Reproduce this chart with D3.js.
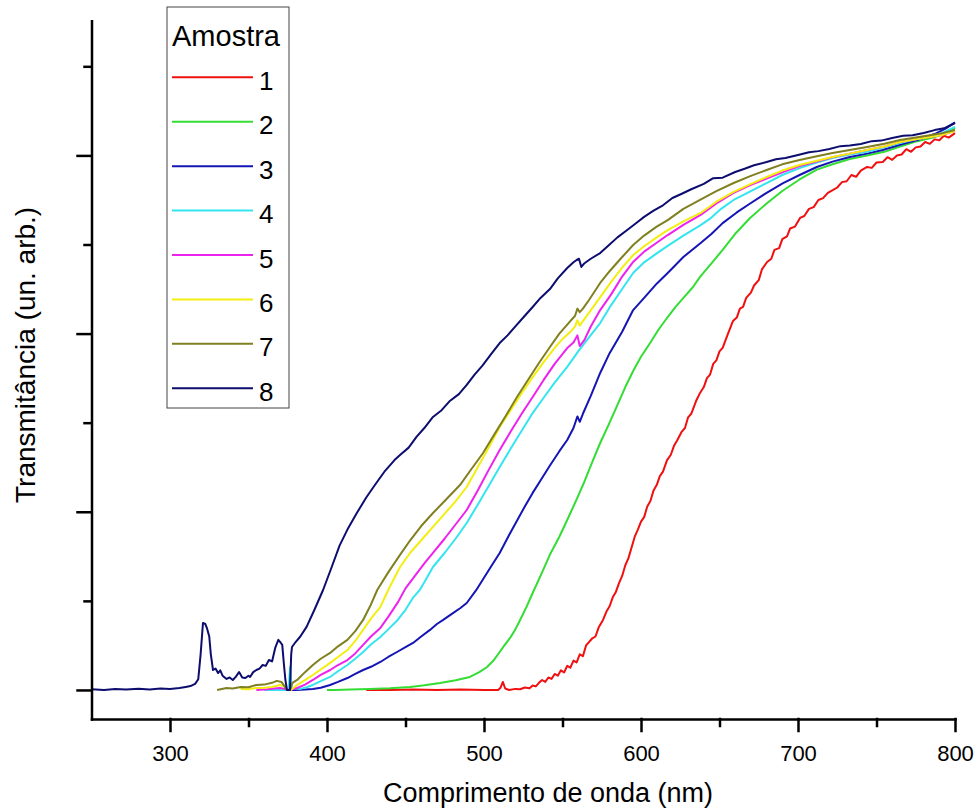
<!DOCTYPE html>
<html>
<head>
<meta charset="utf-8">
<script src="https://cdn.jsdelivr.net/npm/d3@7"></script>
<style>
  body { margin: 0; background: #fff; }
  svg text { font-family: Arial, "Liberation Sans", sans-serif; fill: #000; }
</style>
</head>
<body>
<div id="chart"></div>
<script>
// Sample labels and colours (legend order)
const sampleNames = ["1", "2", "3", "4", "5", "6", "7", "8"];
const sampleColors = ["#f01010", "#33dd33", "#1515b5", "#33e5ee", "#ee22ee", "#f4ee10", "#808020", "#0d0d70"];

// Spectra: [wavelength (nm), transmittance (arb. units)]
const amostra1 = [[425,0],[440,0],[455,0.003],[470,0],[485,0.003],[500,0],[509,0],[510.5,0.012],[512,0.045],[513.5,0.008],[516,0],[520,0.006],[523,0.004],[526,0.014],[529,0.01],[531,0.025],[533,0.02],[535,0.04],[537,0.056],[539,0.045],[541,0.07],[543,0.062],[545,0.09],[547,0.08],[549,0.11],[551,0.098],[553,0.135],[555,0.125],[557,0.165],[559,0.155],[561,0.2],[563,0.19],[565,0.25],[567,0.27],[569,0.29],[571,0.3],[573,0.35],[575.8,0.393],[578,0.44],[580,0.47],[582,0.52],[584,0.55],[586,0.6],[588,0.64],[590,0.7],[592,0.74],[594,0.8],[596,0.86],[598,0.9],[600,0.945],[602,0.97],[604,1.03],[606,1.06],[608,1.12],[610,1.15],[612,1.2],[614,1.225],[616.6,1.29],[619,1.32],[621,1.37],[623,1.4],[626,1.45],[628,1.47],[630,1.53],[632,1.55],[635,1.62],[637.6,1.667],[640,1.7],[642,1.75],[644,1.77],[646,1.83],[648,1.85],[650,1.9],[652,1.92],[655,1.99],[658.6,2.071],[661,2.09],[663,2.14],[665,2.15],[667,2.2],[670,2.23],[672,2.27],[675,2.3],[677,2.36],[680.3,2.402],[683,2.42],[685,2.47],[688,2.48],[690,2.53],[693,2.545],[695,2.59],[698,2.6],[701.3,2.649],[704,2.66],[707,2.7],[710,2.71],[713,2.75],[716,2.76],[719,2.79],[722.4,2.806],[725,2.82],[728,2.85],[731,2.855],[734,2.89],[737,2.88],[740,2.915],[744,2.935],[747,2.93],[750,2.96],[754,2.963],[757,2.99],[760,2.975],[763,3.0],[766,3.005],[769,3.035],[772,3.02],[775,3.045],[778,3.05],[781,3.075],[784,3.065],[787,3.09],[790,3.085],[793,3.11],[796,3.1],[800,3.125]];

const amostra2 = [[400,0],[405,0],[415,0.003],[427,0.006],[440,0.01],[453,0.017],[462,0.026],[472,0.039],[482,0.055],[491,0.073],[497,0.1],[502,0.129],[506,0.165],[510,0.213],[513,0.25],[516.6,0.292],[520,0.34],[523,0.393],[527,0.465],[531,0.544],[537,0.66],[542,0.76],[548,0.86],[553,0.954],[559,1.07],[564,1.17],[569,1.28],[574,1.386],[580,1.5],[586,1.62],[590,1.7],[595,1.79],[600,1.87],[606,1.95],[611,2.02],[617,2.093],[622,2.15],[628,2.21],[633,2.26],[637.6,2.318],[645,2.395],[652,2.47],[660,2.56],[669.5,2.649],[680,2.73],[690,2.8],[701,2.865],[712,2.92],[722,2.95],[733,2.98],[744,3.0],[755,3.02],[765,3.05],[776,3.08],[786,3.1],[793,3.12],[800,3.155]];

const amostra3 = [[370,0],[380,0],[386,0.002],[391,0.006],[396,0.012],[402,0.028],[407,0.045],[413,0.067],[418,0.09],[423,0.112],[428,0.13],[434,0.157],[439,0.185],[444.6,0.213],[450,0.24],[454.8,0.264],[460,0.3],[465.6,0.337],[470,0.37],[474,0.393],[480,0.43],[485,0.46],[489,0.488],[495,0.56],[500,0.63],[505,0.7],[510,0.769],[516,0.87],[521,0.95],[526,1.03],[531,1.106],[537,1.19],[542,1.26],[548,1.34],[553,1.403],[557,1.47],[559.5,1.535],[561,1.505],[563,1.55],[568,1.65],[574,1.779],[580,1.89],[588,2.01],[595,2.132],[602,2.2],[610,2.28],[617,2.34],[627,2.43],[638,2.508],[645,2.56],[652,2.62],[661,2.68],[670,2.733],[680,2.79],[690.5,2.845],[701,2.89],[712,2.935],[722,2.965],[733,2.991],[744,3.01],[754,3.03],[765,3.06],[776,3.086],[787,3.12],[794,3.15],[800,3.185]];

const amostra4 = [[360,0],[370,0],[375.5,0],[376.5,0.13],[377.5,0.01],[383,0.006],[387,0.015],[391,0.028],[396,0.05],[402,0.073],[407,0.105],[413,0.14],[418,0.175],[423,0.213],[428,0.255],[434,0.297],[439,0.34],[445,0.393],[450,0.45],[455,0.52],[459,0.56],[463,0.62],[467.5,0.69],[475,0.77],[482,0.85],[489,0.937],[496,1.04],[503,1.145],[510,1.251],[517,1.355],[524,1.455],[531,1.554],[538,1.64],[545,1.725],[553,1.813],[560,1.9],[567,1.98],[574,2.059],[581,2.16],[588,2.25],[595,2.34],[602,2.4],[610,2.45],[617,2.492],[627,2.55],[638,2.609],[644,2.645],[651,2.7],[659,2.75],[670,2.8],[680,2.845],[690,2.89],[701,2.929],[712,2.96],[722,2.985],[733,3.005],[744,3.02],[755,3.045],[765,3.07],[775,3.09],[786,3.11],[793,3.13],[800,3.16]];

const amostra5 = [[355,0],[362,0.004],[366,0.008],[370,0.011],[373,0.006],[376,0],[381,0.011],[386,0.03],[391,0.056],[396,0.085],[402,0.112],[407,0.14],[413,0.168],[418,0.205],[423,0.253],[428,0.3],[434,0.348],[439,0.41],[445,0.49],[450,0.57],[456,0.64],[462,0.71],[467.5,0.769],[475,0.85],[482,0.93],[489,1.01],[496,1.12],[503,1.235],[510,1.347],[517,1.45],[524,1.55],[531,1.644],[538,1.74],[545,1.83],[553,1.919],[557,1.95],[559.5,1.99],[561,1.93],[564,1.965],[568,2.04],[574,2.132],[581,2.22],[588,2.32],[595,2.402],[602,2.46],[610,2.51],[617,2.553],[627,2.61],[638,2.666],[648,2.73],[659,2.79],[670,2.835],[680,2.87],[690,2.905],[701,2.94],[712,2.965],[722,2.99],[733,3.01],[744,3.03],[755,3.05],[765,3.075],[775,3.09],[785,3.105],[792,3.115],[800,3.137]];

const amostra6 = [[345,0.006],[350,0.004],[355,0.011],[360,0.012],[365,0.017],[370,0.028],[373,0.02],[375,0],[377,0],[381,0.028],[386,0.055],[391,0.084],[396,0.115],[402,0.152],[407,0.185],[413,0.224],[418,0.275],[423,0.337],[428,0.4],[434,0.466],[439,0.561],[446.5,0.69],[453,0.77],[460,0.84],[467.5,0.915],[475,0.99],[482,1.06],[489,1.139],[496,1.25],[503,1.36],[510,1.476],[517,1.57],[524,1.665],[531,1.756],[538,1.84],[545,1.92],[550,1.97],[555,2.01],[558,2.04],[559.5,2.075],[561,2.045],[563,2.07],[568,2.13],[574,2.205],[581,2.29],[588,2.37],[595,2.441],[602,2.49],[610,2.54],[617,2.581],[627,2.63],[638,2.677],[648,2.74],[659,2.795],[670,2.84],[680,2.879],[690,2.915],[701,2.946],[712,2.97],[722,2.991],[733,3.01],[744,3.03],[755,3.05],[765,3.075],[775,3.09],[785,3.105],[792,3.115],[800,3.137]];

const amostra7 = [[330,0],[336,0.011],[340,0.008],[345,0.017],[350,0.015],[355,0.028],[360,0.03],[365,0.04],[368,0.051],[371,0.045],[373,0.02],[374.5,0],[376.5,0],[378,0.04],[381,0.056],[386,0.1],[391,0.14],[396,0.175],[402,0.208],[407,0.245],[413,0.281],[418,0.33],[423,0.393],[428,0.48],[432,0.561],[439,0.66],[446.5,0.758],[453,0.84],[460,0.92],[467.5,0.993],[476,1.07],[484.7,1.15],[492,1.24],[499.4,1.33],[507,1.44],[514,1.54],[521,1.644],[528,1.74],[535,1.835],[542,1.925],[548,2.0],[554,2.06],[558,2.1],[559.5,2.14],[561,2.12],[563,2.14],[567,2.19],[574,2.284],[580,2.35],[587,2.42],[595,2.497],[602,2.55],[610,2.6],[617,2.637],[627,2.7],[637.6,2.75],[648,2.8],[659,2.845],[670,2.885],[680,2.918],[690,2.95],[701,2.974],[712,2.995],[722,3.013],[733,3.03],[744,3.047],[755,3.065],[765,3.086],[775,3.1],[785,3.115],[792,3.125],[800,3.143]];

const amostra8 = [[250,0.004],[258,0],[265,0.006],[272,0.002],[280,0.007],[287,0.003],[294,0.008],[300,0.006],[306,0.011],[310,0.017],[313,0.022],[316,0.034],[318,0.06],[319.5,0.2],[321,0.376],[322.5,0.37],[323.6,0.345],[325,0.3],[326,0.2],[327.4,0.112],[329,0.12],[330.6,0.095],[332,0.11],[333.5,0.08],[336,0.062],[338,0.07],[340,0.056],[342,0.075],[344,0.101],[346,0.07],[348,0.067],[350,0.08],[351,0.073],[353,0.1],[355,0.112],[357,0.12],[359,0.14],[361,0.135],[363,0.168],[365,0.16],[367,0.236],[369,0.281],[370.5,0.265],[371.5,0.253],[372.5,0.15],[373.5,0.056],[374.5,0],[376.4,0],[377.2,0.2],[377.7,0.241],[380,0.269],[383,0.3],[387,0.354],[392,0.45],[397.5,0.561],[403,0.69],[408,0.81],[413,0.9],[419,0.993],[425,1.08],[430.5,1.15],[437,1.23],[443,1.29],[446.5,1.319],[452,1.36],[457,1.42],[462,1.47],[467.5,1.532],[473,1.57],[478,1.62],[484,1.66],[489,1.712],[494,1.77],[499,1.82],[505,1.89],[510,1.947],[515,1.99],[520,2.04],[526,2.1],[531,2.149],[536,2.2],[542,2.25],[547,2.31],[553,2.368],[557,2.4],[559,2.413],[560.5,2.42],[562,2.374],[564,2.395],[568,2.42],[574,2.452],[580,2.5],[585,2.54],[591,2.58],[597,2.621],[602,2.655],[608,2.69],[614,2.72],[620,2.761],[626,2.785],[632,2.81],[640,2.84],[646,2.872],[652,2.875],[660,2.907],[666,2.925],[672,2.945],[680,2.963],[686,2.978],[692,2.985],[700,3.002],[707,3.018],[713,3.024],[720,3.036],[727,3.052],[733,3.055],[740,3.064],[747,3.08],[753,3.083],[760,3.098],[767,3.11],[773,3.113],[780,3.126],[787,3.142],[793,3.152],[800,3.182]];

const spectra = [amostra1, amostra2, amostra3, amostra4, amostra5, amostra6, amostra7, amostra8];

// Axis ticks
const xTicks = [300, 400, 500, 600, 700, 800];
const xMinorTicks = [350, 450, 550, 650, 750];
const yTicks = [0, 1, 2, 3];
const yMinorTicks = [0.5, 1.5, 2.5, 3.5];

function drawChart() {
    const width = 978, height = 812;

    const svg = d3.select("#chart").append("svg")
        .attr("width", width)
        .attr("height", height);

    const x = d3.scaleLinear().domain([250, 800]).range([91.5, 955]);
    const y = d3.scaleLinear().domain([-0.163, 3.756]).range([719, 20.7]);

    const line = d3.line()
        .x(d => x(d[0]))
        .y(d => y(d[1]));

    // Spectra, sample 1 first so sample 8 ends on top
    svg.append("g")
        .selectAll("path")
        .data(spectra)
        .enter().append("path")
        .attr("d", line)
        .attr("fill", "none")
        .attr("stroke", (d, i) => sampleColors[i])
        .attr("stroke-width", 2)
        .attr("stroke-linejoin", "round");

    // x axis
    const xAxis = svg.append("g")
        .attr("transform", `translate(0,${y.range()[0]})`)
        .call(d3.axisBottom(x).tickValues(xTicks).tickSize(12).tickSizeOuter(0).tickPadding(14));
    xAxis.append("g")
        .call(d3.axisBottom(x).tickValues(xMinorTicks).tickSize(7).tickFormat(""))
        .select(".domain").remove();

    // y axis, no labels (arbitrary units)
    const yAxis = svg.append("g")
        .attr("transform", `translate(${x.range()[0]},0)`)
        .call(d3.axisLeft(y).tickValues(yTicks).tickSize(14).tickSizeOuter(0).tickFormat(""));
    yAxis.append("g")
        .call(d3.axisLeft(y).tickValues(yMinorTicks).tickSize(7).tickFormat(""))
        .select(".domain").remove();

    svg.selectAll(".domain, .tick line")
        .attr("stroke", "#000")
        .attr("stroke-width", 2.5)
        .attr("stroke-linecap", "square");

    xAxis.selectAll(".tick text")
        .attr("font-size", 22)
        .attr("font-family", "Arial, 'Liberation Sans', sans-serif")
        .attr("fill", "#000");

    // axis titles
    svg.append("text")
        .attr("x", 548)
        .attr("y", 802)
        .attr("text-anchor", "middle")
        .style("font-size", "27px")
        .text("Comprimento de onda (nm)");

    svg.append("text")
        .attr("transform", "translate(35,503) rotate(-90)")
        .attr("text-anchor", "start")
        .style("font-size", "28px")
        .text("Transmitância (un. arb.)");

    // legend
    const legend = svg.append("g");
    legend.append("rect")
        .attr("x", 167).attr("y", 7)
        .attr("width", 122).attr("height", 401)
        .attr("fill", "#fff")
        .attr("stroke", "#444")
        .attr("stroke-width", 1);
    legend.append("text")
        .attr("x", 172).attr("y", 46)
        .style("font-size", "29px")
        .text("Amostra");

    const ly = d3.scaleLinear().domain([0, sampleNames.length - 1]).range([77.3, 388.3]);
    const item = legend.selectAll(".item")
        .data(sampleNames)
        .enter().append("g")
        .attr("class", "item")
        .attr("transform", (d, i) => `translate(0,${ly(i)})`);
    item.append("line")
        .attr("x1", 172).attr("x2", 253)
        .attr("stroke", (d, i) => sampleColors[i])
        .attr("stroke-width", 2);
    item.append("text")
        .attr("x", 259).attr("y", 12.5)
        .style("font-size", "26px")
        .text(d => d);
}

drawChart();
</script>
</body>
</html>
